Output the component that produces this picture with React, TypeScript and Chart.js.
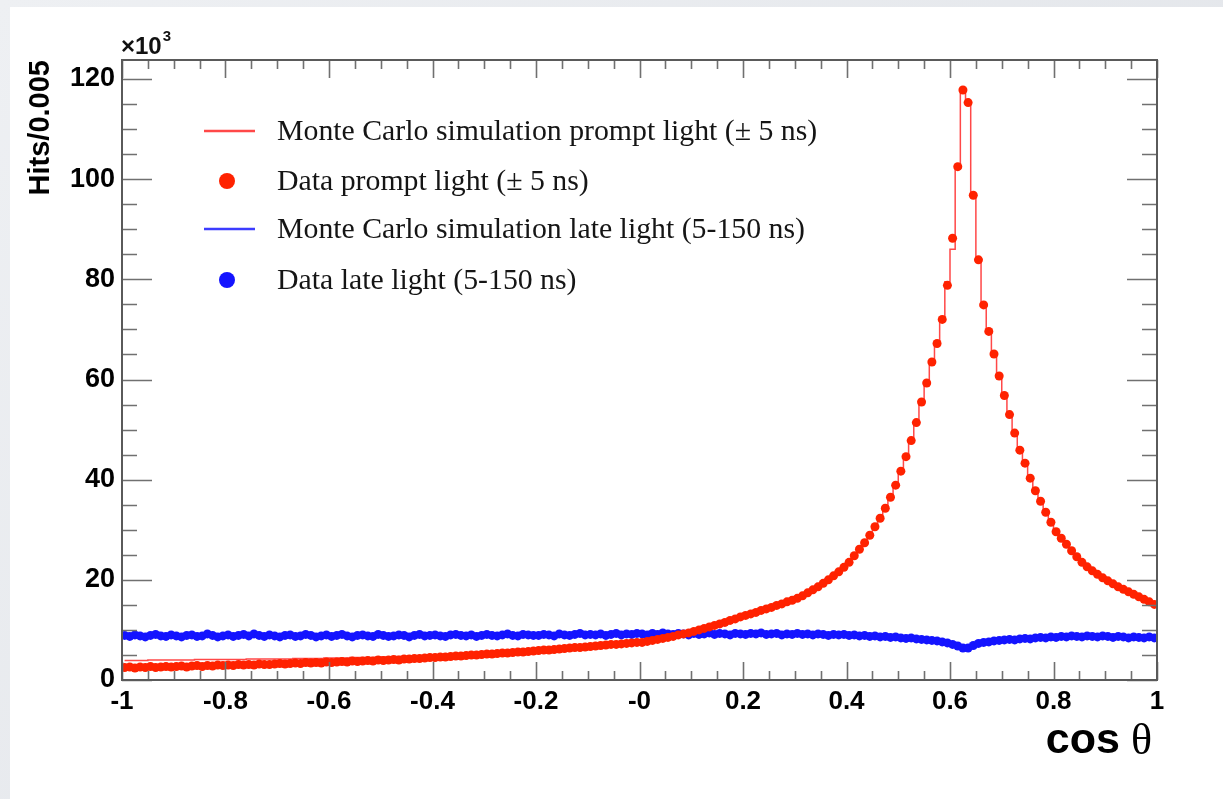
import React, { useEffect, useRef } from 'react';
import { Chart, registerables } from 'chart.js';

Chart.register(...registerables);

// Binning of the histogram (bin centres are derived from these)
const BIN_LOW = -1;
const BIN_WIDTH = 0.01;

// Monte Carlo simulation prompt light (± 5 ns), per 0.01 bin from -1 to 1
const MC_PROMPT = [
  3.9, 3.9, 3.9, 3.9, 3.9, 4.0, 4.0, 4.0, 4.0, 4.0,
  4.0, 4.0, 4.0, 4.0, 4.1, 4.1, 4.1, 4.1, 4.1, 4.1,
  4.1, 4.1, 4.1, 4.1, 4.2, 4.2, 4.2, 4.2, 4.2, 4.2,
  4.2, 4.2, 4.2, 4.3, 4.3, 4.3, 4.3, 4.3, 4.3, 4.4,
  4.4, 4.4, 4.4, 4.4, 4.5, 4.5, 4.5, 4.5, 4.5, 4.6,
  4.6, 4.6, 4.6, 4.7, 4.7, 4.7, 4.7, 4.8, 4.8, 4.8,
  4.9, 4.9, 4.9, 5.0, 5.0, 5.0, 5.1, 5.1, 5.2, 5.2,
  5.3, 5.3, 5.4, 5.4, 5.5, 5.5, 5.6, 5.7, 5.7, 5.8,
  5.9, 6.0, 6.0, 6.1, 6.2, 6.3, 6.4, 6.4, 6.5, 6.6,
  6.7, 6.8, 6.9, 7.0, 7.1, 7.1, 7.2, 7.3, 7.4, 7.5,
  7.6, 7.7, 7.9, 8.1, 8.3, 8.5, 8.7, 9.0, 9.2, 9.4,
  9.7, 10.0, 10.3, 10.6, 10.9, 11.2, 11.5, 11.9, 12.2, 12.6,
  12.9, 13.2, 13.5, 13.9, 14.2, 14.5, 14.9, 15.2, 15.6, 16.0,
  16.3, 16.8, 17.4, 18.0, 18.6, 19.3, 20.0, 20.8, 21.6, 22.5,
  23.5, 24.7, 26.0, 27.4, 28.9, 30.5, 32.3, 34.3, 36.5, 38.9,
  41.6, 44.6, 47.8, 51.4, 55.4, 59.4, 63.5, 67.5, 72.3, 79.5,
  86.0, 102.5, 117.8, 115.3, 97.0, 84.0, 75.2, 69.4, 64.8, 60.6,
  56.8, 53.1, 49.5, 46.2, 43.2, 40.5, 38.0, 35.7, 33.5, 31.6,
  29.8, 28.3, 27.0, 25.8, 24.7, 23.6, 22.7, 21.8, 21.1, 20.4,
  19.8, 19.2, 18.6, 18.1, 17.6, 17.1, 16.6, 16.1, 15.6, 15.1,
];

// Data prompt light (± 5 ns)
const DATA_PROMPT = [
  2.5, 2.6, 2.4, 2.6, 2.5, 2.7, 2.5, 2.6, 2.7, 2.6,
  2.7, 2.8, 2.6, 2.8, 2.9, 2.7, 2.9, 2.8, 3.0, 2.9,
  3.0, 2.9, 3.1, 3.0, 3.1, 3.0, 3.2, 3.1, 3.1, 3.2,
  3.3, 3.2, 3.3, 3.4, 3.3, 3.5, 3.4, 3.5, 3.4, 3.6,
  3.5, 3.6, 3.7, 3.6, 3.8, 3.7, 3.8, 3.9, 3.8, 4.0,
  3.9, 4.0, 4.1, 4.0, 4.2, 4.2, 4.3, 4.3, 4.4, 4.5,
  4.5, 4.6, 4.6, 4.7, 4.8, 4.8, 4.9, 5.0, 5.0, 5.1,
  5.2, 5.2, 5.3, 5.4, 5.4, 5.5, 5.6, 5.6, 5.7, 5.8,
  5.9, 6.0, 6.0, 6.1, 6.2, 6.3, 6.4, 6.5, 6.5, 6.6,
  6.7, 6.8, 6.9, 7.0, 7.1, 7.1, 7.2, 7.3, 7.4, 7.5,
  7.5, 7.7, 7.9, 8.1, 8.3, 8.5, 8.7, 9.0, 9.2, 9.4,
  9.7, 10.0, 10.3, 10.6, 10.9, 11.2, 11.5, 11.9, 12.2, 12.6,
  12.9, 13.2, 13.5, 13.9, 14.2, 14.5, 14.9, 15.2, 15.6, 15.9,
  16.3, 16.8, 17.4, 18.0, 18.6, 19.3, 20.0, 20.8, 21.6, 22.5,
  23.5, 24.8, 26.1, 27.4, 28.9, 30.6, 32.3, 34.3, 36.5, 38.9,
  41.7, 44.6, 47.8, 51.4, 55.5, 59.3, 63.5, 67.2, 72.0, 78.8,
  88.2, 102.5, 117.8, 115.3, 96.8, 83.9, 74.9, 69.6, 65.1, 60.7,
  56.8, 53.0, 49.3, 45.9, 43.3, 40.3, 37.8, 35.7, 33.5, 31.5,
  29.6, 28.3, 27.1, 25.8, 24.6, 23.5, 22.6, 21.8, 21.1, 20.4,
  19.8, 19.2, 18.6, 18.1, 17.6, 17.1, 16.6, 16.1, 15.6, 15.1,
];

// Monte Carlo simulation late light (5-150 ns)
const MC_LATE = [
  8.9, 8.9, 8.9, 8.8, 8.8, 8.9, 8.9, 8.9, 8.8, 8.9,
  8.9, 8.8, 8.9, 8.9, 8.8, 8.9, 8.9, 8.9, 8.8, 8.9,
  8.9, 8.9, 8.9, 9.0, 8.9, 8.9, 8.9, 8.9, 8.9, 8.9,
  8.9, 8.9, 8.9, 8.9, 8.9, 9.0, 8.9, 8.9, 8.9, 8.9,
  8.9, 8.9, 9.0, 8.9, 8.9, 8.9, 8.9, 8.9, 8.9, 9.0,
  8.9, 8.9, 8.9, 8.9, 8.9, 8.9, 8.9, 9.0, 8.9, 8.9,
  8.9, 8.9, 8.9, 9.0, 9.0, 8.9, 8.9, 9.0, 8.9, 8.9,
  9.0, 9.0, 8.9, 9.0, 9.0, 9.0, 9.0, 9.0, 9.0, 9.0,
  9.0, 9.0, 9.0, 9.0, 9.1, 9.0, 9.0, 9.1, 9.1, 9.1,
  9.1, 9.1, 9.1, 9.1, 9.1, 9.1, 9.1, 9.2, 9.1, 9.2,
  9.2, 9.1, 9.2, 9.2, 9.2, 9.2, 9.2, 9.2, 9.2, 9.2,
  9.2, 9.2, 9.2, 9.2, 9.2, 9.2, 9.2, 9.2, 9.2, 9.2,
  9.2, 9.2, 9.2, 9.2, 9.2, 9.2, 9.2, 9.1, 9.2, 9.1,
  9.1, 9.1, 9.1, 9.1, 9.1, 9.0, 9.0, 9.0, 9.0, 9.0,
  8.9, 8.9, 8.8, 8.8, 8.7, 8.7, 8.6, 8.6, 8.5, 8.5,
  8.4, 8.3, 8.3, 8.2, 8.1, 8.0, 7.9, 7.8, 7.6, 7.4,
  7.1, 6.8, 6.5, 6.5, 6.9, 7.3, 7.5, 7.6, 7.8, 7.9,
  8.0, 8.1, 8.1, 8.2, 8.3, 8.3, 8.4, 8.4, 8.5, 8.5,
  8.6, 8.6, 8.6, 8.7, 8.7, 8.7, 8.7, 8.7, 8.7, 8.7,
  8.7, 8.6, 8.6, 8.6, 8.6, 8.6, 8.5, 8.5, 8.5, 8.5,
];

// Data late light (5-150 ns)
const DATA_LATE = [
  8.9, 8.7, 9.0, 8.8, 8.6, 8.9, 9.1, 8.8, 8.7, 9.0,
  8.8, 8.6, 8.9, 9.0, 8.7, 8.8, 9.2, 8.9, 8.6, 8.8,
  9.0, 8.7, 8.9, 9.1, 8.8, 9.2, 8.9, 8.7, 9.0, 8.8,
  8.6, 8.9, 9.0, 8.7, 8.8, 9.1, 8.9, 8.6, 8.8, 9.0,
  8.7, 8.9, 9.1, 8.8, 8.6, 8.9, 9.0, 8.8, 8.7, 9.1,
  8.9, 8.7, 8.8, 9.0, 8.9, 8.6, 8.9, 9.1, 8.8, 8.9,
  9.0, 8.8, 8.7, 9.0, 9.1, 8.9, 8.8, 9.0, 8.7, 8.9,
  9.1, 8.9, 8.8, 9.0, 9.2, 8.9, 8.8, 9.1, 9.0, 8.9,
  8.9, 9.1, 9.0, 8.8, 9.2, 9.0, 8.9, 9.1, 9.3, 9.0,
  9.1, 9.0, 9.2, 8.9, 9.1, 9.3, 9.0, 9.2, 9.1, 9.3,
  9.2, 9.0, 9.3, 9.1, 9.4, 9.2, 9.1, 9.3, 9.2, 9.0,
  9.3, 9.1, 9.2, 9.4, 9.1, 9.3, 9.2, 9.0, 9.3, 9.2,
  9.1, 9.3, 9.2, 9.4, 9.1, 9.2, 9.3, 9.0, 9.2, 9.1,
  9.3, 9.1, 9.2, 9.0, 9.2, 9.1, 8.9, 9.1, 9.0, 9.1,
  8.9, 9.0, 8.8, 8.9, 8.7, 8.8, 8.6, 8.7, 8.5, 8.6,
  8.4, 8.3, 8.4, 8.2, 8.1, 8.0, 7.9, 7.8, 7.6, 7.4,
  7.1, 6.8, 6.4, 6.4, 6.9, 7.3, 7.5, 7.6, 7.8, 7.9,
  8.0, 8.1, 8.0, 8.2, 8.3, 8.2, 8.4, 8.5, 8.4, 8.6,
  8.5, 8.7, 8.6, 8.8, 8.7, 8.6, 8.8, 8.7, 8.6, 8.8,
  8.7, 8.5, 8.7, 8.6, 8.4, 8.6, 8.5, 8.4, 8.6, 8.4,
];

const SERIES_LABELS = [
  'Monte Carlo simulation prompt light (\u00b1 5 ns)',
  'Data prompt light (\u00b1 5 ns)',
  'Monte Carlo simulation late light (5-150 ns)',
  'Data late light (5-150 ns)',
];

const X_MIN = -1;
const X_MAX = 1;
const Y_MIN = 0;
const Y_MAX = 123.8;
const X_TICKS = [-1, -0.8, -0.6, -0.4, -0.2, 0, 0.2, 0.4, 0.6, 0.8, 1];
const X_TICK_LABELS = ['-1', '-0.8', '-0.6', '-0.4', '-0.2', '-0', '0.2', '0.4', '0.6', '0.8', '1'];
const Y_TICKS = [0, 20, 40, 60, 80, 100, 120];
const Y_TICK_LABELS = ['0', '20', '40', '60', '80', '100', '120'];
const X_MINOR_STEP = 0.05;
const Y_MINOR_STEP = 5;
const X_TITLE = 'cos';
const X_TITLE_SYMBOL = '\u03b8';
const Y_TITLE = 'Hits/0.005';

const SANS = '"Liberation Sans", Arial, Helvetica, sans-serif';
const SERIF = '"Liberation Serif", "Times New Roman", serif';

const toPoints = (vals: number[]) =>
  vals.map((v, i) => ({ x: BIN_LOW + BIN_WIDTH * (i + 0.5), y: v }));

const rootStylePlugin = {
  id: 'rootStyle',
  afterDatasetsDraw(chart: any) {
    const { ctx, chartArea } = chart;
    const { left, right, top, bottom } = chartArea;
    const xs = chart.scales.x;
    const ys = chart.scales.y;
    ctx.save();
    // ticks
    ctx.strokeStyle = '#707070';
    ctx.lineWidth = 1.6;
    const nx = Math.round((X_MAX - X_MIN) / X_MINOR_STEP);
    for (let k = 0; k <= nx; k++) {
      const v = X_MIN + k * X_MINOR_STEP;
      const px = Math.round(xs.getPixelForValue(v)) + 0.5;
      const len = k % 4 === 0 ? 18 : 9;
      ctx.beginPath();
      ctx.moveTo(px, bottom);
      ctx.lineTo(px, bottom - len);
      ctx.moveTo(px, top);
      ctx.lineTo(px, top + len);
      ctx.stroke();
    }
    const ny = Math.floor((Y_MAX - Y_MIN) / Y_MINOR_STEP);
    for (let k = 0; k <= ny; k++) {
      const v = Y_MIN + k * Y_MINOR_STEP;
      const py = Math.round(ys.getPixelForValue(v)) + 0.5;
      const len = k % 4 === 0 ? 30 : 15;
      ctx.beginPath();
      ctx.moveTo(left, py);
      ctx.lineTo(left + len, py);
      ctx.moveTo(right, py);
      ctx.lineTo(right - len, py);
      ctx.stroke();
    }
    // frame
    ctx.strokeStyle = '#5a5a5a';
    ctx.lineWidth = 2;
    ctx.strokeRect(left, top, right - left, bottom - top);

    // x10^3 exponent label
    ctx.fillStyle = '#111';
    ctx.textBaseline = 'alphabetic';
    ctx.textAlign = 'left';
    ctx.font = `bold 24px ${SANS}`;
    ctx.fillText('\u00d710', left - 1, top - 6);
    const w10 = ctx.measureText('\u00d710').width;
    ctx.font = `bold 15px ${SANS}`;
    ctx.fillText('3', left + w10, top - 19);

    // x title
    ctx.fillStyle = '#000';
    ctx.textAlign = 'right';
    ctx.font = `44px ${SERIF}`;
    const thetaRight = right - 5;
    ctx.fillText(X_TITLE_SYMBOL, thetaRight, bottom + 74);
    const wTheta = ctx.measureText(X_TITLE_SYMBOL).width;
    ctx.font = `bold 43px ${SANS}`;
    ctx.fillText(X_TITLE, thetaRight - wTheta - 11, bottom + 73);

    // legend
    const rowsY = [131, 181, 229, 280];
    chart.data.datasets.forEach((ds: any, i: number) => {
      const y = rowsY[i];
      if (ds.showLine) {
        ctx.strokeStyle = ds.borderColor;
        ctx.lineWidth = 2.5;
        ctx.beginPath();
        ctx.moveTo(204, y);
        ctx.lineTo(255, y);
        ctx.stroke();
      } else {
        ctx.fillStyle = ds.pointBackgroundColor;
        ctx.beginPath();
        ctx.arc(227, y, 8, 0, Math.PI * 2);
        ctx.fill();
      }
      ctx.fillStyle = '#151515';
      ctx.textAlign = 'left';
      ctx.textBaseline = 'middle';
      ctx.font = `29.8px ${SERIF}`;
      ctx.fillText(ds.label, 277, y + 1);
    });
    ctx.restore();
  },
};

export default function App() {
  const canvasRef = useRef<HTMLCanvasElement | null>(null);

  useEffect(() => {
    if (!canvasRef.current) return;
    const chart = new Chart(canvasRef.current, {
      type: 'scatter',
      data: {
        datasets: [
          {
            label: SERIES_LABELS[0],
            data: toPoints(MC_PROMPT),
            showLine: true,
            stepped: 'middle',
            borderColor: '#ff4848',
            borderWidth: 1.5,
            pointRadius: 0,
            order: 1,
          },
          {
            label: SERIES_LABELS[1],
            data: toPoints(DATA_PROMPT),
            showLine: false,
            pointRadius: 4.5,
            pointBackgroundColor: '#ff2200',
            pointBorderWidth: 0,
            borderColor: '#ff2200',
            order: 0,
          },
          {
            label: SERIES_LABELS[2],
            data: toPoints(MC_LATE),
            showLine: true,
            stepped: 'middle',
            borderColor: '#3c3cff',
            borderWidth: 1.5,
            pointRadius: 0,
            order: 3,
          },
          {
            label: SERIES_LABELS[3],
            data: toPoints(DATA_LATE),
            showLine: false,
            pointRadius: 4.5,
            pointBackgroundColor: '#1414ff',
            pointBorderWidth: 0,
            borderColor: '#1414ff',
            order: 2,
          },
        ] as any,
      },
      options: {
        animation: false,
        responsive: false,
        devicePixelRatio: 1,
        events: [],
        layout: { padding: { left: 0, right: 66, top: 60, bottom: 59 } },
        plugins: {
          legend: { display: false },
          tooltip: { enabled: false },
        },
        scales: {
          x: {
            type: 'linear',
            min: X_MIN,
            max: X_MAX,
            afterBuildTicks: (s: any) => {
              s.ticks = X_TICKS.map((v) => ({ value: v }));
            },
            afterFit: (s: any) => {
              s.height = 60;
            },
            grid: { display: false, drawTicks: false },
            border: { display: false },
            ticks: {
              autoSkip: false,
              maxRotation: 0,
              padding: 6,
              color: '#000',
              font: { family: SANS, weight: 'bold', size: 26 },
              callback: (_v: any, i: number) => X_TICK_LABELS[i],
            },
          },
          y: {
            type: 'linear',
            min: Y_MIN,
            max: Y_MAX,
            afterBuildTicks: (s: any) => {
              s.ticks = Y_TICKS.map((v) => ({ value: v }));
            },
            afterFit: (s: any) => {
              s.width = 122;
            },
            grid: { display: false, drawTicks: false },
            border: { display: false },
            ticks: {
              padding: 7,
              color: '#000',
              font: { family: SANS, weight: 'bold', size: 27 },
              callback: (_v: any, i: number) => Y_TICK_LABELS[i],
            },
            title: {
              display: true,
              text: Y_TITLE,
              align: 'end',
              color: '#000',
              font: { family: SANS, weight: 'bold', size: 29 },
              padding: { top: 24, bottom: 0 },
            },
          },
        },
      } as any,
      plugins: [rootStylePlugin],
    });
    return () => chart.destroy();
  }, []);

  return (
    <div
      style={{
        position: 'fixed',
        left: 0,
        top: 0,
        width: 1223,
        height: 799,
        background: 'linear-gradient(135deg, #eef0f3 0%, #dfe2e7 100%)',
        overflow: 'hidden',
      }}
    >
      <div
        style={{
          position: 'absolute',
          left: 10,
          top: 7,
          right: 0,
          bottom: 0,
          background: '#ffffff',
        }}
      />
      <canvas
        ref={canvasRef}
        width={1223}
        height={799}
        style={{ position: 'absolute', left: 0, top: 0, width: 1223, height: 799 }}
      />
    </div>
  );
}
